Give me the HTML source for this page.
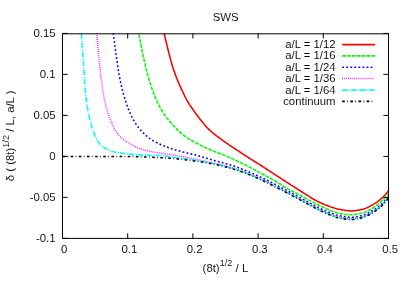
<!DOCTYPE html>
<html><head><meta charset="utf-8"><title>SWS</title>
<style>html,body{margin:0;padding:0;background:#fff;width:409px;height:286px;overflow:hidden;font-family:"Liberation Sans",sans-serif}</style>
</head><body>
<svg width="409" height="286" viewBox="0 0 409 286" style="position:absolute;left:0;top:0">
<rect width="409" height="286" fill="#fff"/>
<filter id="nf" x="0" y="0" width="409" height="286" filterUnits="userSpaceOnUse"><feOffset dx="0" dy="0"/></filter>
<clipPath id="cp"><rect x="62.5" y="33.4" width="326.0" height="205.0"/></clipPath>
<g clip-path="url(#cp)" fill="none" stroke-linejoin="round">
<path d="M162.00,25.00 L162.25,25.97 L162.50,26.94 L162.75,27.91 L162.99,28.88 L163.24,29.84 L163.48,30.81 L163.72,31.78 L163.97,32.75 L164.21,33.73 L164.44,34.70 L164.68,35.67 L164.91,36.64 L165.14,37.61 L165.37,38.59 L165.60,39.56 L165.83,40.54 L166.05,41.51 L166.28,42.48 L166.51,43.46 L166.75,44.43 L166.98,45.40 L167.22,46.37 L167.46,47.34 L167.70,48.31 L167.95,49.28 L168.19,50.25 L168.43,51.22 L168.68,52.19 L168.92,53.16 L169.17,54.14 L169.42,55.11 L169.67,56.07 L169.92,57.04 L170.17,58.01 L170.43,58.98 L170.69,59.94 L170.96,60.91 L171.23,61.87 L171.50,62.83 L171.78,63.79 L172.06,64.75 L172.35,65.70 L172.64,66.66 L172.94,67.61 L173.25,68.56 L173.57,69.51 L173.89,70.46 L174.21,71.40 L174.54,72.35 L174.88,73.29 L175.22,74.23 L175.57,75.17 L175.92,76.11 L176.28,77.04 L176.64,77.98 L177.01,78.91 L177.37,79.84 L177.75,80.76 L178.13,81.68 L178.52,82.60 L178.92,83.52 L179.32,84.44 L179.73,85.35 L180.14,86.26 L180.56,87.17 L180.98,88.08 L181.41,88.99 L181.83,89.89 L182.26,90.80 L182.68,91.70 L183.11,92.61 L183.54,93.51 L183.97,94.42 L184.40,95.32 L184.84,96.22 L185.28,97.12 L185.73,98.01 L186.19,98.90 L186.66,99.78 L187.15,100.65 L187.64,101.52 L188.15,102.37 L188.68,103.22 L189.23,104.06 L189.78,104.90 L190.34,105.73 L190.91,106.55 L191.48,107.38 L192.05,108.20 L192.62,109.02 L193.19,109.84 L193.77,110.65 L194.35,111.47 L194.93,112.28 L195.52,113.09 L196.11,113.90 L196.71,114.71 L197.31,115.51 L197.91,116.31 L198.51,117.10 L199.12,117.90 L199.74,118.69 L200.36,119.47 L200.98,120.25 L201.61,121.03 L202.23,121.81 L202.86,122.59 L203.50,123.37 L204.14,124.14 L204.78,124.91 L205.44,125.68 L206.10,126.43 L206.76,127.18 L207.44,127.91 L208.13,128.63 L208.83,129.33 L209.54,130.02 L210.27,130.70 L211.01,131.36 L211.77,132.01 L212.53,132.65 L213.31,133.29 L214.09,133.91 L214.88,134.54 L215.68,135.15 L216.48,135.76 L217.28,136.37 L218.08,136.97 L218.87,137.58 L219.67,138.18 L220.47,138.78 L221.27,139.37 L222.08,139.96 L222.90,140.54 L223.71,141.12 L224.53,141.70 L225.35,142.27 L226.17,142.84 L226.99,143.41 L227.82,143.98 L228.64,144.55 L229.47,145.11 L230.29,145.67 L231.12,146.23 L231.95,146.79 L232.79,147.34 L233.62,147.89 L234.46,148.44 L235.29,148.99 L236.13,149.54 L236.97,150.08 L237.81,150.63 L238.64,151.18 L239.48,151.72 L240.32,152.27 L241.15,152.82 L241.99,153.37 L242.82,153.92 L243.66,154.47 L244.49,155.02 L245.33,155.57 L246.17,156.12 L247.00,156.66 L247.84,157.21 L248.68,157.75 L249.52,158.29 L250.36,158.83 L251.21,159.37 L252.06,159.90 L252.90,160.43 L253.75,160.96 L254.60,161.49 L255.45,162.02 L256.30,162.54 L257.15,163.07 L258.00,163.60 L258.85,164.12 L259.70,164.65 L260.55,165.19 L261.39,165.72 L262.23,166.26 L263.08,166.80 L263.91,167.34 L264.75,167.89 L265.59,168.43 L266.43,168.98 L267.26,169.53 L268.10,170.08 L268.93,170.63 L269.76,171.19 L270.60,171.74 L271.43,172.29 L272.27,172.84 L273.10,173.39 L273.94,173.94 L274.78,174.48 L275.61,175.03 L276.45,175.58 L277.29,176.12 L278.13,176.67 L278.97,177.21 L279.80,177.76 L280.64,178.30 L281.48,178.85 L282.32,179.39 L283.16,179.94 L284.00,180.48 L284.84,181.02 L285.68,181.56 L286.52,182.10 L287.36,182.64 L288.21,183.18 L289.05,183.72 L289.89,184.26 L290.74,184.79 L291.58,185.33 L292.43,185.86 L293.27,186.40 L294.12,186.93 L294.96,187.47 L295.81,188.00 L296.65,188.53 L297.50,189.07 L298.35,189.60 L299.19,190.13 L300.04,190.66 L300.89,191.20 L301.73,191.73 L302.58,192.27 L303.42,192.81 L304.26,193.35 L305.10,193.91 L305.93,194.46 L306.77,195.01 L307.61,195.57 L308.45,196.12 L309.29,196.66 L310.13,197.20 L310.98,197.73 L311.83,198.25 L312.69,198.76 L313.55,199.26 L314.42,199.74 L315.30,200.21 L316.18,200.67 L317.07,201.13 L317.96,201.58 L318.86,202.02 L319.76,202.46 L320.67,202.89 L321.58,203.31 L322.50,203.73 L323.42,204.13 L324.34,204.51 L325.27,204.89 L326.20,205.25 L327.13,205.60 L328.07,205.94 L329.01,206.27 L329.95,206.61 L330.90,206.93 L331.85,207.25 L332.81,207.56 L333.77,207.86 L334.73,208.15 L335.70,208.42 L336.67,208.68 L337.64,208.92 L338.61,209.14 L339.58,209.34 L340.56,209.52 L341.54,209.71 L342.53,209.89 L343.52,210.07 L344.51,210.25 L345.50,210.41 L346.50,210.55 L347.50,210.68 L348.49,210.78 L349.49,210.85 L350.48,210.89 L351.47,210.90 L352.47,210.87 L353.47,210.81 L354.47,210.72 L355.48,210.61 L356.48,210.47 L357.48,210.32 L358.48,210.15 L359.47,209.97 L360.45,209.78 L361.41,209.58 L362.37,209.38 L363.32,209.15 L364.27,208.86 L365.20,208.53 L366.14,208.15 L367.06,207.74 L367.98,207.30 L368.89,206.84 L369.79,206.37 L370.68,205.89 L371.56,205.41 L372.43,204.93 L373.29,204.44 L374.15,203.93 L375.00,203.40 L375.85,202.84 L376.68,202.27 L377.51,201.69 L378.32,201.09 L379.11,200.47 L379.89,199.84 L380.65,199.21 L381.39,198.56 L382.11,197.89 L382.83,197.21 L383.53,196.51 L384.22,195.79 L384.90,195.05 L385.57,194.30 L386.23,193.54 L386.87,192.75 L387.49,191.96 L388.10,191.14 L388.50,190.60" stroke="#ff0000" stroke-width="1.55"/>
<path d="M137.30,25.00 L137.47,25.99 L137.64,26.97 L137.81,27.96 L137.98,28.94 L138.16,29.93 L138.33,30.91 L138.51,31.90 L138.69,32.88 L138.87,33.86 L139.05,34.85 L139.23,35.83 L139.41,36.81 L139.59,37.80 L139.78,38.78 L139.96,39.76 L140.15,40.75 L140.33,41.73 L140.52,42.71 L140.71,43.69 L140.90,44.68 L141.09,45.66 L141.28,46.64 L141.47,47.62 L141.67,48.60 L141.86,49.58 L142.06,50.56 L142.26,51.54 L142.46,52.52 L142.67,53.50 L142.87,54.48 L143.08,55.46 L143.29,56.43 L143.51,57.41 L143.72,58.39 L143.94,59.36 L144.16,60.34 L144.38,61.31 L144.60,62.29 L144.82,63.26 L145.05,64.24 L145.28,65.21 L145.52,66.19 L145.75,67.16 L145.99,68.13 L146.23,69.10 L146.47,70.07 L146.72,71.04 L146.97,72.01 L147.22,72.97 L147.48,73.94 L147.74,74.91 L148.00,75.87 L148.27,76.83 L148.54,77.80 L148.81,78.76 L149.09,79.72 L149.37,80.68 L149.66,81.64 L149.95,82.60 L150.25,83.55 L150.55,84.51 L150.85,85.46 L151.16,86.41 L151.48,87.36 L151.80,88.30 L152.14,89.24 L152.48,90.18 L152.83,91.12 L153.19,92.05 L153.56,92.98 L153.93,93.91 L154.31,94.84 L154.69,95.76 L155.07,96.69 L155.45,97.61 L155.84,98.54 L156.23,99.46 L156.63,100.38 L157.03,101.29 L157.45,102.20 L157.87,103.11 L158.31,104.01 L158.75,104.90 L159.21,105.79 L159.68,106.67 L160.15,107.55 L160.64,108.43 L161.14,109.30 L161.65,110.16 L162.17,111.02 L162.69,111.87 L163.23,112.72 L163.77,113.55 L164.32,114.38 L164.89,115.20 L165.47,116.02 L166.06,116.82 L166.66,117.63 L167.28,118.42 L167.90,119.21 L168.53,119.99 L169.16,120.76 L169.80,121.53 L170.45,122.29 L171.10,123.05 L171.76,123.80 L172.42,124.55 L173.10,125.29 L173.78,126.03 L174.47,126.76 L175.16,127.48 L175.86,128.20 L176.57,128.91 L177.29,129.61 L178.01,130.30 L178.74,130.98 L179.47,131.64 L180.22,132.31 L180.97,132.96 L181.73,133.62 L182.51,134.26 L183.29,134.89 L184.08,135.51 L184.87,136.12 L185.68,136.72 L186.49,137.30 L187.31,137.87 L188.14,138.42 L188.98,138.95 L189.83,139.46 L190.70,139.96 L191.58,140.45 L192.46,140.93 L193.34,141.40 L194.23,141.88 L195.10,142.36 L195.98,142.84 L196.86,143.32 L197.74,143.80 L198.61,144.28 L199.50,144.76 L200.38,145.23 L201.26,145.70 L202.15,146.16 L203.04,146.61 L203.94,147.05 L204.84,147.47 L205.75,147.89 L206.66,148.29 L207.58,148.69 L208.50,149.08 L209.43,149.46 L210.36,149.83 L211.29,150.21 L212.21,150.58 L213.14,150.96 L214.07,151.32 L215.00,151.68 L215.94,152.04 L216.87,152.39 L217.81,152.75 L218.75,153.10 L219.69,153.45 L220.62,153.80 L221.55,154.16 L222.49,154.52 L223.42,154.89 L224.34,155.27 L225.26,155.65 L226.18,156.04 L227.10,156.44 L228.01,156.84 L228.93,157.25 L229.84,157.66 L230.75,158.08 L231.66,158.50 L232.57,158.92 L233.47,159.34 L234.38,159.77 L235.28,160.19 L236.19,160.62 L237.09,161.05 L237.99,161.48 L238.89,161.91 L239.79,162.35 L240.69,162.79 L241.59,163.23 L242.49,163.67 L243.38,164.11 L244.28,164.56 L245.17,165.01 L246.07,165.46 L246.96,165.91 L247.85,166.36 L248.74,166.81 L249.63,167.26 L250.53,167.72 L251.42,168.18 L252.30,168.63 L253.19,169.09 L254.08,169.55 L254.97,170.01 L255.85,170.48 L256.74,170.94 L257.62,171.41 L258.51,171.88 L259.39,172.34 L260.27,172.81 L261.16,173.29 L262.04,173.76 L262.92,174.23 L263.80,174.71 L264.68,175.18 L265.56,175.65 L266.44,176.13 L267.32,176.61 L268.20,177.08 L269.08,177.56 L269.95,178.05 L270.83,178.53 L271.70,179.02 L272.57,179.51 L273.44,180.01 L274.30,180.51 L275.16,181.02 L276.02,181.53 L276.87,182.06 L277.72,182.59 L278.56,183.13 L279.41,183.67 L280.25,184.21 L281.09,184.76 L281.93,185.30 L282.77,185.85 L283.61,186.38 L284.46,186.91 L285.31,187.43 L286.17,187.95 L287.03,188.45 L287.90,188.94 L288.78,189.41 L289.66,189.88 L290.54,190.35 L291.43,190.80 L292.32,191.25 L293.22,191.70 L294.12,192.15 L295.01,192.59 L295.91,193.03 L296.81,193.47 L297.71,193.91 L298.61,194.36 L299.50,194.81 L300.39,195.26 L301.28,195.72 L302.17,196.19 L303.05,196.66 L303.92,197.14 L304.80,197.63 L305.67,198.11 L306.54,198.61 L307.41,199.10 L308.28,199.59 L309.16,200.09 L310.03,200.58 L310.90,201.06 L311.78,201.55 L312.66,202.02 L313.54,202.49 L314.42,202.96 L315.31,203.41 L316.20,203.86 L317.10,204.31 L317.99,204.76 L318.89,205.21 L319.79,205.65 L320.69,206.09 L321.59,206.53 L322.50,206.95 L323.40,207.37 L324.32,207.78 L325.23,208.19 L326.15,208.58 L327.07,208.96 L327.99,209.34 L328.92,209.73 L329.85,210.11 L330.78,210.51 L331.71,210.89 L332.65,211.27 L333.59,211.64 L334.53,212.00 L335.48,212.33 L336.43,212.64 L337.39,212.92 L338.35,213.17 L339.31,213.39 L340.28,213.57 L341.25,213.73 L342.24,213.90 L343.23,214.06 L344.22,214.21 L345.22,214.36 L346.22,214.48 L347.22,214.59 L348.22,214.68 L349.22,214.75 L350.22,214.79 L351.21,214.80 L352.21,214.77 L353.20,214.71 L354.20,214.61 L355.21,214.48 L356.21,214.32 L357.20,214.15 L358.19,213.95 L359.18,213.74 L360.16,213.51 L361.13,213.28 L362.08,213.05 L363.03,212.81 L363.97,212.51 L364.91,212.17 L365.84,211.80 L366.76,211.39 L367.68,210.95 L368.59,210.48 L369.48,210.01 L370.37,209.51 L371.24,209.02 L372.10,208.52 L372.94,208.01 L373.78,207.48 L374.60,206.92 L375.42,206.34 L376.23,205.73 L377.02,205.11 L377.81,204.48 L378.58,203.83 L379.35,203.17 L380.10,202.51 L380.84,201.85 L381.57,201.18 L382.29,200.49 L383.00,199.80 L383.70,199.09 L384.39,198.37 L385.08,197.64 L385.75,196.89 L386.41,196.14 L387.07,195.37 L387.71,194.59 L388.34,193.80 L388.50,193.60" stroke="#00ff00" stroke-width="1.55" stroke-dasharray="3.7 1.17"/>
<path d="M112.20,25.00 L112.33,25.99 L112.46,26.98 L112.58,27.98 L112.71,28.97 L112.84,29.96 L112.97,30.95 L113.10,31.94 L113.23,32.93 L113.36,33.93 L113.48,34.92 L113.61,35.91 L113.74,36.90 L113.87,37.89 L114.00,38.88 L114.12,39.88 L114.25,40.87 L114.38,41.86 L114.51,42.85 L114.64,43.84 L114.77,44.83 L114.90,45.83 L115.03,46.82 L115.16,47.81 L115.29,48.80 L115.42,49.79 L115.56,50.78 L115.69,51.77 L115.83,52.76 L115.97,53.75 L116.10,54.74 L116.24,55.74 L116.38,56.73 L116.52,57.72 L116.65,58.71 L116.79,59.70 L116.93,60.69 L117.07,61.68 L117.21,62.67 L117.35,63.66 L117.50,64.65 L117.64,65.64 L117.79,66.63 L117.94,67.62 L118.09,68.61 L118.24,69.59 L118.40,70.58 L118.56,71.57 L118.72,72.55 L118.89,73.54 L119.06,74.53 L119.23,75.51 L119.41,76.49 L119.60,77.48 L119.79,78.46 L119.98,79.44 L120.18,80.42 L120.39,81.40 L120.59,82.38 L120.81,83.35 L121.03,84.33 L121.25,85.30 L121.48,86.28 L121.71,87.25 L121.95,88.22 L122.19,89.19 L122.44,90.16 L122.69,91.13 L122.94,92.10 L123.20,93.06 L123.47,94.03 L123.74,94.99 L124.01,95.95 L124.29,96.91 L124.58,97.87 L124.87,98.83 L125.17,99.78 L125.47,100.74 L125.78,101.69 L126.10,102.64 L126.42,103.59 L126.74,104.53 L127.08,105.47 L127.41,106.41 L127.76,107.35 L128.12,108.28 L128.49,109.21 L128.86,110.14 L129.25,111.07 L129.64,111.99 L130.04,112.90 L130.44,113.82 L130.85,114.73 L131.28,115.64 L131.71,116.54 L132.16,117.43 L132.62,118.32 L133.10,119.20 L133.59,120.07 L134.09,120.94 L134.60,121.80 L135.12,122.65 L135.65,123.50 L136.20,124.34 L136.75,125.17 L137.32,125.99 L137.91,126.80 L138.50,127.60 L139.11,128.40 L139.74,129.18 L140.39,129.94 L141.06,130.67 L141.75,131.40 L142.45,132.11 L143.16,132.82 L143.89,133.52 L144.62,134.21 L145.37,134.89 L146.12,135.55 L146.89,136.20 L147.66,136.84 L148.44,137.46 L149.23,138.06 L150.03,138.64 L150.85,139.20 L151.68,139.76 L152.53,140.29 L153.39,140.82 L154.26,141.32 L155.14,141.81 L156.02,142.29 L156.90,142.75 L157.79,143.20 L158.70,143.63 L159.61,144.04 L160.52,144.44 L161.44,144.84 L162.37,145.22 L163.30,145.60 L164.23,145.97 L165.16,146.34 L166.09,146.70 L167.02,147.05 L167.96,147.40 L168.90,147.74 L169.85,148.07 L170.79,148.40 L171.74,148.71 L172.69,149.02 L173.65,149.32 L174.60,149.61 L175.56,149.90 L176.52,150.18 L177.48,150.46 L178.44,150.74 L179.40,151.02 L180.37,151.29 L181.33,151.57 L182.29,151.84 L183.25,152.11 L184.22,152.37 L185.19,152.62 L186.16,152.86 L187.13,153.09 L188.11,153.31 L189.08,153.51 L190.07,153.71 L191.05,153.91 L192.02,154.12 L193.00,154.33 L193.97,154.57 L194.94,154.81 L195.91,155.07 L196.87,155.33 L197.83,155.60 L198.79,155.88 L199.75,156.16 L200.71,156.45 L201.67,156.74 L202.63,157.02 L203.59,157.31 L204.55,157.60 L205.51,157.88 L206.46,158.17 L207.42,158.46 L208.38,158.76 L209.33,159.05 L210.29,159.34 L211.25,159.63 L212.20,159.91 L213.16,160.19 L214.13,160.46 L215.09,160.73 L216.06,160.99 L217.02,161.24 L217.99,161.50 L218.96,161.76 L219.92,162.02 L220.89,162.27 L221.86,162.54 L222.82,162.80 L223.78,163.07 L224.74,163.35 L225.70,163.64 L226.66,163.92 L227.61,164.21 L228.57,164.51 L229.53,164.80 L230.48,165.10 L231.44,165.40 L232.39,165.71 L233.34,166.02 L234.29,166.33 L235.24,166.65 L236.18,166.98 L237.13,167.30 L238.07,167.64 L239.01,167.98 L239.95,168.32 L240.88,168.67 L241.82,169.03 L242.75,169.39 L243.68,169.76 L244.61,170.13 L245.54,170.50 L246.47,170.88 L247.39,171.26 L248.32,171.64 L249.24,172.02 L250.16,172.41 L251.08,172.80 L252.00,173.19 L252.92,173.59 L253.83,174.00 L254.75,174.40 L255.66,174.81 L256.57,175.23 L257.48,175.64 L258.39,176.06 L259.30,176.48 L260.20,176.91 L261.11,177.33 L262.01,177.76 L262.91,178.19 L263.81,178.63 L264.71,179.07 L265.61,179.51 L266.50,179.95 L267.39,180.40 L268.29,180.85 L269.18,181.31 L270.07,181.76 L270.96,182.22 L271.85,182.68 L272.74,183.14 L273.63,183.59 L274.52,184.05 L275.40,184.51 L276.29,184.97 L277.18,185.44 L278.06,185.90 L278.95,186.37 L279.83,186.83 L280.72,187.30 L281.60,187.77 L282.48,188.24 L283.36,188.71 L284.25,189.18 L285.13,189.65 L286.01,190.12 L286.90,190.59 L287.78,191.05 L288.67,191.52 L289.55,191.99 L290.43,192.46 L291.32,192.92 L292.20,193.39 L293.09,193.85 L293.97,194.32 L294.86,194.79 L295.74,195.26 L296.62,195.72 L297.51,196.19 L298.39,196.66 L299.27,197.13 L300.15,197.61 L301.03,198.08 L301.91,198.55 L302.79,199.03 L303.67,199.52 L304.54,200.00 L305.42,200.49 L306.29,200.99 L307.16,201.48 L308.03,201.97 L308.90,202.46 L309.77,202.95 L310.65,203.44 L311.52,203.92 L312.40,204.40 L313.28,204.87 L314.17,205.33 L315.06,205.78 L315.95,206.23 L316.85,206.68 L317.74,207.12 L318.64,207.56 L319.54,208.00 L320.45,208.44 L321.35,208.87 L322.26,209.29 L323.17,209.70 L324.08,210.11 L325.00,210.51 L325.92,210.90 L326.84,211.28 L327.77,211.65 L328.70,212.02 L329.63,212.40 L330.56,212.78 L331.50,213.16 L332.44,213.53 L333.38,213.89 L334.33,214.24 L335.27,214.57 L336.23,214.88 L337.18,215.16 L338.14,215.42 L339.11,215.64 L340.07,215.83 L341.05,216.01 L342.03,216.19 L343.02,216.36 L344.01,216.53 L345.01,216.68 L346.01,216.82 L347.01,216.95 L348.01,217.05 L349.00,217.13 L350.00,217.18 L350.99,217.20 L351.99,217.18 L352.98,217.13 L353.98,217.04 L354.98,216.91 L355.98,216.76 L356.98,216.59 L357.98,216.39 L358.96,216.18 L359.94,215.96 L360.91,215.74 L361.87,215.50 L362.82,215.27 L363.76,214.98 L364.70,214.65 L365.63,214.28 L366.55,213.87 L367.47,213.44 L368.38,212.98 L369.27,212.50 L370.16,212.02 L371.04,211.52 L371.91,211.03 L372.76,210.53 L373.61,210.02 L374.45,209.48 L375.29,208.92 L376.12,208.34 L376.93,207.74 L377.74,207.13 L378.53,206.51 L379.31,205.87 L380.07,205.23 L380.81,204.57 L381.54,203.91 L382.25,203.23 L382.96,202.53 L383.66,201.82 L384.34,201.09 L385.01,200.35 L385.67,199.59 L386.32,198.82 L386.96,198.04 L387.58,197.24 L388.19,196.43 L388.50,196.00" stroke="#0000ff" stroke-width="1.55" stroke-dasharray="1.8 2.26"/>
<path d="M96.00,25.00 L96.08,26.00 L96.16,26.99 L96.24,27.99 L96.32,28.99 L96.41,29.98 L96.49,30.98 L96.57,31.98 L96.66,32.97 L96.74,33.97 L96.82,34.97 L96.91,35.96 L96.99,36.96 L97.08,37.96 L97.16,38.95 L97.24,39.95 L97.33,40.95 L97.41,41.94 L97.50,42.94 L97.58,43.93 L97.67,44.93 L97.76,45.93 L97.85,46.92 L97.93,47.92 L98.02,48.91 L98.12,49.91 L98.21,50.91 L98.30,51.90 L98.39,52.90 L98.49,53.89 L98.59,54.89 L98.68,55.88 L98.78,56.88 L98.88,57.87 L98.98,58.87 L99.08,59.86 L99.18,60.86 L99.29,61.85 L99.39,62.85 L99.50,63.84 L99.60,64.84 L99.71,65.83 L99.82,66.83 L99.93,67.82 L100.04,68.81 L100.16,69.81 L100.27,70.80 L100.39,71.79 L100.51,72.79 L100.62,73.78 L100.75,74.77 L100.87,75.76 L100.99,76.76 L101.11,77.75 L101.24,78.74 L101.36,79.73 L101.49,80.73 L101.62,81.72 L101.75,82.71 L101.88,83.70 L102.02,84.70 L102.15,85.69 L102.29,86.68 L102.44,87.67 L102.58,88.66 L102.73,89.65 L102.88,90.63 L103.04,91.62 L103.20,92.61 L103.36,93.59 L103.53,94.58 L103.70,95.56 L103.88,96.55 L104.06,97.53 L104.25,98.51 L104.44,99.50 L104.65,100.48 L104.85,101.46 L105.07,102.44 L105.29,103.41 L105.52,104.39 L105.75,105.36 L106.00,106.33 L106.24,107.29 L106.50,108.25 L106.77,109.21 L107.05,110.17 L107.35,111.13 L107.65,112.09 L107.96,113.04 L108.29,113.99 L108.62,114.94 L108.96,115.88 L109.30,116.82 L109.66,117.76 L110.02,118.69 L110.39,119.61 L110.76,120.54 L111.13,121.47 L111.52,122.40 L111.91,123.34 L112.31,124.27 L112.72,125.20 L113.15,126.13 L113.58,127.04 L114.03,127.95 L114.49,128.84 L114.97,129.72 L115.46,130.57 L115.98,131.41 L116.51,132.22 L117.06,133.01 L117.66,133.79 L118.30,134.55 L118.97,135.30 L119.67,136.03 L120.39,136.75 L121.14,137.45 L121.89,138.13 L122.66,138.80 L123.43,139.44 L124.20,140.05 L124.98,140.65 L125.79,141.24 L126.62,141.80 L127.46,142.35 L128.32,142.89 L129.18,143.41 L130.05,143.91 L130.93,144.40 L131.80,144.87 L132.68,145.34 L133.57,145.79 L134.47,146.24 L135.38,146.68 L136.29,147.10 L137.21,147.50 L138.13,147.89 L139.06,148.26 L140.00,148.60 L140.94,148.92 L141.89,149.23 L142.84,149.52 L143.81,149.79 L144.78,150.06 L145.75,150.31 L146.72,150.56 L147.69,150.79 L148.66,151.02 L149.64,151.24 L150.62,151.45 L151.60,151.65 L152.58,151.84 L153.56,152.03 L154.54,152.22 L155.53,152.39 L156.51,152.57 L157.50,152.73 L158.48,152.90 L159.47,153.05 L160.46,153.21 L161.45,153.36 L162.44,153.51 L163.43,153.67 L164.41,153.82 L165.40,153.97 L166.39,154.11 L167.38,154.26 L168.37,154.40 L169.36,154.54 L170.35,154.68 L171.34,154.81 L172.34,154.95 L173.33,155.09 L174.32,155.23 L175.31,155.38 L176.29,155.52 L177.28,155.67 L178.27,155.83 L179.26,155.99 L180.24,156.16 L181.22,156.33 L182.21,156.52 L183.19,156.71 L184.17,156.90 L185.15,157.10 L186.13,157.30 L187.11,157.50 L188.09,157.71 L189.07,157.91 L190.05,158.12 L191.03,158.32 L192.01,158.52 L192.99,158.72 L193.97,158.91 L194.95,159.11 L195.93,159.30 L196.91,159.49 L197.89,159.69 L198.87,159.88 L199.85,160.08 L200.83,160.27 L201.81,160.47 L202.79,160.67 L203.77,160.87 L204.75,161.07 L205.73,161.27 L206.71,161.48 L207.69,161.69 L208.67,161.89 L209.65,162.10 L210.62,162.32 L211.60,162.53 L212.58,162.74 L213.55,162.96 L214.53,163.18 L215.51,163.40 L216.48,163.62 L217.46,163.84 L218.43,164.07 L219.40,164.30 L220.37,164.53 L221.35,164.77 L222.32,165.01 L223.29,165.26 L224.25,165.51 L225.22,165.76 L226.19,166.02 L227.15,166.28 L228.12,166.55 L229.08,166.82 L230.04,167.10 L231.00,167.39 L231.95,167.68 L232.91,167.97 L233.86,168.27 L234.82,168.58 L235.77,168.88 L236.72,169.19 L237.67,169.51 L238.62,169.83 L239.56,170.15 L240.51,170.48 L241.45,170.81 L242.39,171.14 L243.33,171.48 L244.27,171.83 L245.21,172.18 L246.14,172.53 L247.08,172.89 L248.01,173.25 L248.94,173.62 L249.87,173.99 L250.80,174.37 L251.72,174.75 L252.64,175.14 L253.56,175.53 L254.48,175.93 L255.39,176.33 L256.31,176.74 L257.22,177.15 L258.13,177.57 L259.04,177.99 L259.94,178.40 L260.85,178.83 L261.76,179.25 L262.66,179.68 L263.56,180.11 L264.47,180.54 L265.37,180.98 L266.27,181.41 L267.16,181.85 L268.06,182.29 L268.96,182.74 L269.85,183.18 L270.75,183.63 L271.64,184.08 L272.53,184.54 L273.42,184.99 L274.31,185.45 L275.20,185.90 L276.09,186.36 L276.98,186.82 L277.87,187.27 L278.76,187.73 L279.64,188.20 L280.53,188.66 L281.42,189.12 L282.30,189.58 L283.19,190.05 L284.08,190.51 L284.96,190.97 L285.85,191.44 L286.73,191.90 L287.62,192.37 L288.50,192.83 L289.39,193.30 L290.27,193.76 L291.16,194.23 L292.04,194.70 L292.93,195.16 L293.81,195.63 L294.70,196.09 L295.58,196.56 L296.47,197.03 L297.35,197.50 L298.23,197.97 L299.12,198.44 L300.00,198.91 L300.88,199.38 L301.76,199.86 L302.63,200.34 L303.51,200.82 L304.39,201.30 L305.26,201.78 L306.14,202.26 L307.02,202.74 L307.90,203.22 L308.78,203.69 L309.66,204.17 L310.54,204.64 L311.42,205.11 L312.30,205.59 L313.18,206.06 L314.07,206.52 L314.96,206.98 L315.85,207.44 L316.74,207.89 L317.63,208.34 L318.52,208.79 L319.42,209.24 L320.32,209.68 L321.22,210.11 L322.12,210.54 L323.03,210.96 L323.94,211.37 L324.85,211.78 L325.77,212.18 L326.69,212.58 L327.61,212.98 L328.53,213.36 L329.46,213.74 L330.39,214.10 L331.33,214.45 L332.27,214.78 L333.21,215.12 L334.16,215.45 L335.11,215.78 L336.06,216.09 L337.02,216.39 L337.98,216.66 L338.95,216.92 L339.92,217.14 L340.89,217.34 L341.87,217.55 L342.86,217.76 L343.85,217.95 L344.84,218.12 L345.83,218.25 L346.83,218.34 L347.82,218.38 L348.82,218.38 L349.82,218.36 L350.82,218.34 L351.83,218.30 L352.83,218.25 L353.83,218.20 L354.83,218.14 L355.82,218.07 L356.80,217.98 L357.79,217.84 L358.77,217.64 L359.76,217.41 L360.73,217.14 L361.70,216.85 L362.66,216.55 L363.61,216.24 L364.54,215.93 L365.47,215.57 L366.39,215.18 L367.30,214.76 L368.20,214.31 L369.10,213.84 L369.98,213.35 L370.86,212.86 L371.72,212.36 L372.57,211.85 L373.42,211.33 L374.27,210.79 L375.10,210.23 L375.93,209.65 L376.75,209.06 L377.55,208.46 L378.34,207.84 L379.12,207.21 L379.87,206.56 L380.61,205.91 L381.33,205.23 L382.04,204.53 L382.74,203.82 L383.43,203.09 L384.10,202.35 L384.77,201.60 L385.43,200.83 L386.09,200.07 L386.73,199.30 L387.37,198.52 L388.01,197.75 L388.50,197.11" stroke="#ff00ff" stroke-width="1.55" stroke-dasharray="0.8 1.23"/>
<path d="M80.90,25.00 L80.96,26.00 L81.01,27.00 L81.07,28.00 L81.13,28.99 L81.19,29.99 L81.25,30.99 L81.31,31.99 L81.37,32.99 L81.43,33.98 L81.49,34.98 L81.56,35.98 L81.62,36.98 L81.68,37.98 L81.75,38.97 L81.81,39.97 L81.88,40.97 L81.94,41.97 L82.01,42.97 L82.08,43.96 L82.14,44.96 L82.21,45.96 L82.28,46.96 L82.34,47.95 L82.41,48.95 L82.48,49.95 L82.55,50.95 L82.62,51.94 L82.69,52.94 L82.76,53.94 L82.82,54.94 L82.89,55.94 L82.96,56.93 L83.03,57.93 L83.10,58.93 L83.17,59.93 L83.24,60.92 L83.32,61.92 L83.39,62.92 L83.46,63.92 L83.53,64.91 L83.60,65.91 L83.67,66.91 L83.74,67.91 L83.81,68.90 L83.88,69.90 L83.95,70.90 L84.02,71.90 L84.09,72.89 L84.16,73.89 L84.23,74.89 L84.30,75.89 L84.37,76.88 L84.44,77.88 L84.50,78.88 L84.57,79.88 L84.63,80.88 L84.70,81.88 L84.76,82.87 L84.83,83.87 L84.89,84.87 L84.96,85.87 L85.03,86.87 L85.10,87.86 L85.18,88.86 L85.25,89.86 L85.33,90.86 L85.41,91.85 L85.50,92.85 L85.59,93.84 L85.68,94.84 L85.78,95.83 L85.89,96.82 L86.00,97.82 L86.13,98.81 L86.25,99.80 L86.39,100.79 L86.52,101.79 L86.67,102.78 L86.81,103.77 L86.96,104.76 L87.12,105.74 L87.28,106.73 L87.44,107.72 L87.60,108.70 L87.77,109.69 L87.95,110.67 L88.13,111.66 L88.32,112.64 L88.51,113.62 L88.71,114.61 L88.92,115.59 L89.13,116.56 L89.35,117.54 L89.57,118.51 L89.80,119.48 L90.04,120.45 L90.28,121.42 L90.53,122.39 L90.79,123.36 L91.06,124.33 L91.33,125.30 L91.62,126.26 L91.91,127.22 L92.21,128.18 L92.53,129.13 L92.85,130.07 L93.18,131.01 L93.53,131.94 L93.88,132.87 L94.25,133.80 L94.63,134.74 L95.03,135.68 L95.44,136.62 L95.87,137.54 L96.32,138.46 L96.79,139.35 L97.28,140.22 L97.79,141.06 L98.33,141.87 L98.89,142.65 L99.50,143.42 L100.16,144.18 L100.87,144.92 L101.62,145.64 L102.39,146.32 L103.19,146.96 L104.00,147.54 L104.82,148.05 L105.66,148.52 L106.52,148.97 L107.42,149.39 L108.35,149.80 L109.29,150.18 L110.25,150.54 L111.21,150.88 L112.19,151.19 L113.16,151.47 L114.13,151.72 L115.10,151.94 L116.06,152.15 L117.03,152.34 L118.01,152.53 L118.99,152.70 L119.98,152.87 L120.97,153.03 L121.96,153.18 L122.96,153.32 L123.96,153.46 L124.96,153.58 L125.95,153.70 L126.95,153.81 L127.95,153.92 L128.95,154.02 L129.94,154.11 L130.94,154.20 L131.93,154.29 L132.93,154.37 L133.92,154.45 L134.92,154.53 L135.92,154.60 L136.92,154.67 L137.92,154.74 L138.92,154.80 L139.92,154.86 L140.91,154.91 L141.91,154.97 L142.91,155.02 L143.91,155.06 L144.91,155.10 L145.91,155.14 L146.91,155.17 L147.91,155.20 L148.91,155.23 L149.91,155.25 L150.91,155.27 L151.92,155.29 L152.92,155.31 L153.92,155.33 L154.92,155.35 L155.92,155.38 L156.92,155.40 L157.92,155.43 L158.92,155.47 L159.91,155.50 L160.91,155.55 L161.90,155.59 L162.90,155.67 L163.89,155.79 L164.87,155.93 L165.86,156.11 L166.85,156.29 L167.83,156.48 L168.82,156.65 L169.81,156.81 L170.80,156.94 L171.79,157.07 L172.79,157.19 L173.78,157.31 L174.77,157.42 L175.77,157.54 L176.76,157.66 L177.75,157.79 L178.74,157.91 L179.73,158.05 L180.72,158.18 L181.72,158.32 L182.71,158.46 L183.70,158.59 L184.69,158.73 L185.68,158.87 L186.67,159.01 L187.66,159.15 L188.65,159.29 L189.64,159.42 L190.63,159.56 L191.62,159.71 L192.61,159.85 L193.60,159.99 L194.59,160.14 L195.58,160.28 L196.57,160.43 L197.56,160.57 L198.55,160.72 L199.53,160.87 L200.52,161.03 L201.51,161.19 L202.49,161.36 L203.48,161.54 L204.46,161.72 L205.44,161.91 L206.42,162.10 L207.40,162.30 L208.38,162.50 L209.36,162.70 L210.34,162.90 L211.32,163.10 L212.30,163.30 L213.28,163.51 L214.26,163.72 L215.24,163.93 L216.21,164.15 L217.19,164.37 L218.16,164.59 L219.14,164.82 L220.11,165.05 L221.08,165.28 L222.06,165.52 L223.03,165.76 L224.00,166.00 L224.96,166.25 L225.93,166.51 L226.89,166.77 L227.86,167.04 L228.82,167.32 L229.78,167.60 L230.74,167.88 L231.70,168.17 L232.65,168.46 L233.61,168.76 L234.56,169.06 L235.51,169.36 L236.47,169.67 L237.42,169.98 L238.36,170.30 L239.31,170.62 L240.26,170.94 L241.20,171.27 L242.15,171.60 L243.09,171.94 L244.03,172.28 L244.97,172.63 L245.90,172.98 L246.84,173.33 L247.77,173.69 L248.70,174.06 L249.63,174.43 L250.56,174.80 L251.48,175.18 L252.40,175.57 L253.32,175.97 L254.24,176.37 L255.15,176.77 L256.07,177.18 L256.98,177.59 L257.89,178.00 L258.80,178.41 L259.71,178.83 L260.62,179.25 L261.52,179.68 L262.43,180.11 L263.33,180.54 L264.23,180.97 L265.13,181.40 L266.03,181.84 L266.93,182.28 L267.82,182.73 L268.72,183.17 L269.61,183.62 L270.50,184.07 L271.39,184.53 L272.29,184.98 L273.18,185.44 L274.07,185.89 L274.96,186.34 L275.85,186.80 L276.74,187.26 L277.63,187.72 L278.51,188.18 L279.40,188.64 L280.29,189.10 L281.18,189.56 L282.06,190.02 L282.95,190.49 L283.84,190.95 L284.72,191.41 L285.61,191.88 L286.49,192.35 L287.37,192.81 L288.26,193.28 L289.14,193.75 L290.03,194.22 L290.91,194.68 L291.79,195.15 L292.68,195.62 L293.56,196.09 L294.44,196.56 L295.33,197.03 L296.21,197.50 L297.09,197.97 L297.97,198.44 L298.85,198.92 L299.73,199.39 L300.61,199.87 L301.49,200.34 L302.37,200.82 L303.25,201.30 L304.13,201.77 L305.01,202.25 L305.89,202.73 L306.77,203.20 L307.64,203.68 L308.52,204.16 L309.40,204.65 L310.27,205.13 L311.15,205.61 L312.03,206.08 L312.91,206.55 L313.80,207.02 L314.68,207.49 L315.57,207.95 L316.46,208.41 L317.35,208.87 L318.24,209.32 L319.13,209.77 L320.03,210.21 L320.93,210.65 L321.83,211.08 L322.74,211.50 L323.65,211.92 L324.56,212.33 L325.47,212.73 L326.39,213.13 L327.31,213.53 L328.23,213.91 L329.16,214.29 L330.09,214.65 L331.02,215.02 L331.95,215.39 L332.89,215.76 L333.83,216.12 L334.77,216.46 L335.72,216.79 L336.67,217.09 L337.63,217.35 L338.59,217.59 L339.56,217.82 L340.54,218.05 L341.52,218.27 L342.51,218.46 L343.50,218.63 L344.49,218.77 L345.49,218.86 L346.48,218.91 L347.48,218.94 L348.48,218.98 L349.48,219.01 L350.49,219.04 L351.49,219.06 L352.49,219.07 L353.49,219.08 L354.48,219.07 L355.46,218.99 L356.45,218.84 L357.44,218.64 L358.42,218.40 L359.40,218.13 L360.37,217.85 L361.33,217.56 L362.28,217.28 L363.23,216.98 L364.17,216.65 L365.11,216.28 L366.04,215.89 L366.96,215.48 L367.87,215.05 L368.77,214.61 L369.66,214.16 L370.54,213.70 L371.41,213.22 L372.28,212.72 L373.14,212.19 L373.99,211.65 L374.83,211.09 L375.66,210.52 L376.47,209.93 L377.27,209.33 L378.05,208.73 L378.81,208.10 L379.57,207.45 L380.31,206.79 L381.04,206.10 L381.76,205.40 L382.47,204.69 L383.18,203.97 L383.87,203.23 L384.55,202.49 L385.22,201.75 L385.88,201.00 L386.53,200.25 L387.16,199.47 L387.78,198.68 L388.38,197.88 L388.50,197.72" stroke="#00ffff" stroke-width="1.55" stroke-dasharray="5.4 1.7 0.9 1.0"/>
<path d="M62.50,156.40 L63.50,156.40 L64.50,156.40 L65.50,156.40 L66.50,156.40 L67.50,156.40 L68.50,156.40 L69.50,156.40 L70.50,156.40 L71.50,156.40 L72.50,156.40 L73.50,156.40 L74.50,156.40 L75.50,156.40 L76.50,156.40 L77.51,156.40 L78.51,156.40 L79.51,156.40 L80.51,156.41 L81.51,156.41 L82.51,156.41 L83.51,156.41 L84.51,156.41 L85.51,156.41 L86.51,156.41 L87.51,156.41 L88.51,156.41 L89.51,156.41 L90.51,156.41 L91.51,156.42 L92.51,156.42 L93.51,156.42 L94.51,156.42 L95.51,156.42 L96.51,156.42 L97.51,156.42 L98.51,156.42 L99.51,156.43 L100.51,156.43 L101.51,156.43 L102.51,156.43 L103.51,156.43 L104.51,156.43 L105.51,156.44 L106.51,156.44 L107.51,156.44 L108.51,156.44 L109.51,156.44 L110.51,156.45 L111.51,156.45 L112.50,156.45 L113.50,156.45 L114.50,156.46 L115.50,156.46 L116.50,156.46 L117.50,156.46 L118.50,156.47 L119.50,156.47 L120.50,156.47 L121.50,156.47 L122.50,156.48 L123.50,156.48 L124.50,156.48 L125.50,156.49 L126.50,156.49 L127.50,156.49 L128.50,156.49 L129.50,156.50 L130.50,156.50 L131.50,156.51 L132.50,156.53 L133.50,156.54 L134.50,156.57 L135.50,156.60 L136.50,156.63 L137.50,156.66 L138.50,156.70 L139.50,156.74 L140.49,156.78 L141.49,156.82 L142.49,156.87 L143.49,156.91 L144.49,156.96 L145.49,157.00 L146.49,157.05 L147.49,157.09 L148.49,157.14 L149.49,157.18 L150.49,157.22 L151.49,157.26 L152.49,157.30 L153.49,157.34 L154.48,157.38 L155.48,157.42 L156.48,157.47 L157.48,157.51 L158.48,157.56 L159.48,157.60 L160.48,157.65 L161.48,157.70 L162.48,157.76 L163.47,157.81 L164.47,157.87 L165.47,157.93 L166.47,157.99 L167.47,158.06 L168.46,158.14 L169.46,158.21 L170.46,158.30 L171.45,158.38 L172.45,158.47 L173.45,158.56 L174.44,158.65 L175.44,158.74 L176.43,158.84 L177.43,158.94 L178.42,159.04 L179.42,159.14 L180.41,159.24 L181.41,159.35 L182.40,159.46 L183.39,159.58 L184.38,159.71 L185.38,159.83 L186.37,159.96 L187.36,160.09 L188.35,160.22 L189.34,160.35 L190.34,160.48 L191.33,160.61 L192.32,160.74 L193.31,160.86 L194.30,160.98 L195.30,161.10 L196.29,161.22 L197.28,161.34 L198.28,161.47 L199.27,161.60 L200.26,161.74 L201.25,161.88 L202.23,162.04 L203.22,162.20 L204.21,162.36 L205.19,162.53 L206.18,162.70 L207.16,162.88 L208.15,163.06 L209.13,163.25 L210.11,163.43 L211.09,163.62 L212.08,163.82 L213.06,164.01 L214.04,164.21 L215.02,164.41 L215.99,164.62 L216.97,164.83 L217.95,165.04 L218.93,165.26 L219.90,165.48 L220.88,165.71 L221.85,165.94 L222.82,166.18 L223.79,166.42 L224.76,166.66 L225.73,166.91 L226.69,167.17 L227.66,167.44 L228.62,167.71 L229.58,167.98 L230.54,168.26 L231.50,168.55 L232.46,168.84 L233.42,169.13 L234.37,169.43 L235.32,169.73 L236.28,170.04 L237.23,170.34 L238.18,170.65 L239.13,170.97 L240.07,171.29 L241.02,171.61 L241.97,171.94 L242.91,172.27 L243.85,172.61 L244.79,172.95 L245.73,173.30 L246.67,173.65 L247.60,174.00 L248.54,174.36 L249.47,174.73 L250.39,175.10 L251.32,175.48 L252.24,175.86 L253.16,176.25 L254.08,176.65 L255.00,177.05 L255.91,177.45 L256.82,177.87 L257.73,178.28 L258.64,178.70 L259.55,179.12 L260.46,179.54 L261.37,179.96 L262.27,180.39 L263.18,180.81 L264.08,181.24 L264.98,181.68 L265.88,182.12 L266.77,182.56 L267.67,183.00 L268.57,183.45 L269.46,183.89 L270.35,184.34 L271.25,184.80 L272.14,185.25 L273.03,185.70 L273.92,186.15 L274.81,186.61 L275.70,187.06 L276.60,187.52 L277.48,187.97 L278.37,188.43 L279.26,188.89 L280.15,189.35 L281.04,189.81 L281.92,190.28 L282.81,190.74 L283.69,191.20 L284.58,191.67 L285.46,192.13 L286.35,192.60 L287.24,193.07 L288.12,193.53 L289.00,194.00 L289.89,194.47 L290.77,194.93 L291.66,195.40 L292.54,195.87 L293.42,196.34 L294.30,196.81 L295.19,197.28 L296.07,197.75 L296.95,198.23 L297.83,198.70 L298.71,199.17 L299.59,199.64 L300.48,200.11 L301.36,200.59 L302.24,201.06 L303.12,201.53 L304.00,202.01 L304.88,202.49 L305.75,202.97 L306.63,203.45 L307.51,203.94 L308.38,204.42 L309.26,204.90 L310.14,205.38 L311.02,205.86 L311.90,206.33 L312.78,206.80 L313.66,207.26 L314.55,207.72 L315.44,208.18 L316.33,208.63 L317.22,209.09 L318.12,209.54 L319.01,210.00 L319.91,210.45 L320.80,210.90 L321.70,211.34 L322.60,211.78 L323.51,212.20 L324.42,212.62 L325.33,213.03 L326.24,213.42 L327.16,213.80 L328.09,214.18 L329.01,214.56 L329.94,214.94 L330.88,215.32 L331.82,215.69 L332.76,216.06 L333.70,216.42 L334.65,216.76 L335.60,217.08 L336.55,217.38 L337.51,217.65 L338.47,217.90 L339.44,218.11 L340.41,218.29 L341.39,218.47 L342.37,218.65 L343.36,218.82 L344.36,218.98 L345.35,219.13 L346.35,219.27 L347.35,219.39 L348.35,219.48 L349.35,219.55 L350.34,219.59 L351.33,219.60 L352.33,219.56 L353.32,219.49 L354.32,219.37 L355.32,219.22 L356.31,219.04 L357.31,218.84 L358.29,218.62 L359.28,218.38 L360.25,218.14 L361.21,217.89 L362.17,217.63 L363.11,217.37 L364.05,217.06 L364.99,216.71 L365.92,216.33 L366.84,215.92 L367.75,215.48 L368.66,215.02 L369.56,214.54 L370.44,214.06 L371.31,213.57 L372.17,213.07 L373.02,212.57 L373.87,212.04 L374.71,211.49 L375.53,210.92 L376.35,210.33 L377.16,209.73 L377.96,209.10 L378.74,208.47 L379.51,207.82 L380.26,207.17 L380.99,206.50 L381.72,205.83 L382.43,205.14 L383.12,204.44 L383.81,203.72 L384.49,202.98 L385.16,202.23 L385.81,201.47 L386.45,200.69 L387.08,199.90 L387.69,199.10 L388.30,198.28 L388.50,198.00" stroke="#000000" stroke-width="1.55" stroke-dasharray="2.6 2.35 0.75 2.45"/>
</g>
<g stroke="#000" stroke-width="1.0" fill="none">
<path d="M62.5,238.4 V33.8 H388.5 V238.4 Z"/>
<path d="M62.50,238.4 v-5.1 M62.50,33.4 v5.1 M127.70,238.4 v-5.1 M127.70,33.4 v5.1 M192.90,238.4 v-5.1 M192.90,33.4 v5.1 M258.10,238.4 v-5.1 M258.10,33.4 v5.1 M323.30,238.4 v-5.1 M323.30,33.4 v5.1 M388.50,238.4 v-5.1 M388.50,33.4 v5.1 M62.5,33.40 h5.1 M388.5,33.40 h-5.1 M62.5,74.40 h5.1 M388.5,74.40 h-5.1 M62.5,115.40 h5.1 M388.5,115.40 h-5.1 M62.5,156.40 h5.1 M388.5,156.40 h-5.1 M62.5,197.40 h5.1 M388.5,197.40 h-5.1 M62.5,238.40 h5.1 M388.5,238.40 h-5.1"/>
</g>
<g font-family="Liberation Sans, sans-serif" font-size="11.36" fill="#000" stroke="#fff" stroke-width="0.06" filter="url(#nf)" style="paint-order:fill stroke">
<text x="64.20" y="253.4" text-anchor="middle">0</text>
<text x="129.40" y="253.4" text-anchor="middle">0.1</text>
<text x="194.60" y="253.4" text-anchor="middle">0.2</text>
<text x="259.80" y="253.4" text-anchor="middle">0.3</text>
<text x="325.00" y="253.4" text-anchor="middle">0.4</text>
<text x="390.20" y="253.4" text-anchor="middle">0.5</text>
<text x="55.6" y="36.50" text-anchor="end">0.15</text>
<text x="55.6" y="77.50" text-anchor="end">0.1</text>
<text x="55.6" y="118.50" text-anchor="end">0.05</text>
<text x="55.6" y="159.50" text-anchor="end">0</text>
<text x="55.6" y="200.50" text-anchor="end">-0.05</text>
<text x="55.6" y="241.50" text-anchor="end">-0.1</text>
<text x="225.6" y="20.7" text-anchor="middle">SWS</text>
<text x="202.6" y="271.5">(8t)<tspan font-size="9.20" dy="-5.5">1/2</tspan><tspan dy="5.5"> / L</tspan></text>
<text transform="translate(14.1,181.2) rotate(-90)">δ ( (8t)<tspan font-size="9.20" dy="-5.5">1/2</tspan><tspan dy="5.5"> / L, a/L )</tspan></text>
<text x="335.6" y="48.10" text-anchor="end">a/L = 1/12</text>
<text x="335.6" y="59.35" text-anchor="end">a/L = 1/16</text>
<text x="335.6" y="70.80" text-anchor="end">a/L = 1/24</text>
<text x="335.6" y="82.05" text-anchor="end">a/L = 1/36</text>
<text x="335.6" y="93.60" text-anchor="end">a/L = 1/64</text>
<text x="335.6" y="104.85" text-anchor="end">continuum</text>
</g>
<g fill="none">
<path d="M342.2,44.60 H375.0" stroke="#ff0000" stroke-width="1.55"/>
<path d="M342.2,55.85 H375.0" stroke="#00ff00" stroke-width="1.55" stroke-dasharray="3.7 1.17"/>
<path d="M342.2,67.30 H374.5" stroke="#0000ff" stroke-width="1.55" stroke-dasharray="1.8 2.26"/>
<path d="M342.2,78.55 H374.0" stroke="#ff00ff" stroke-width="1.55" stroke-dasharray="0.8 1.23"/>
<path d="M342.2,90.10 H374.3" stroke="#00ffff" stroke-width="1.55" stroke-dasharray="5.4 1.7 0.9 1.0"/>
<path d="M342.2,101.35 H372.6" stroke="#000000" stroke-width="1.55" stroke-dasharray="2.6 2.35 0.75 2.45"/>
</g>
</svg>
</body></html>
